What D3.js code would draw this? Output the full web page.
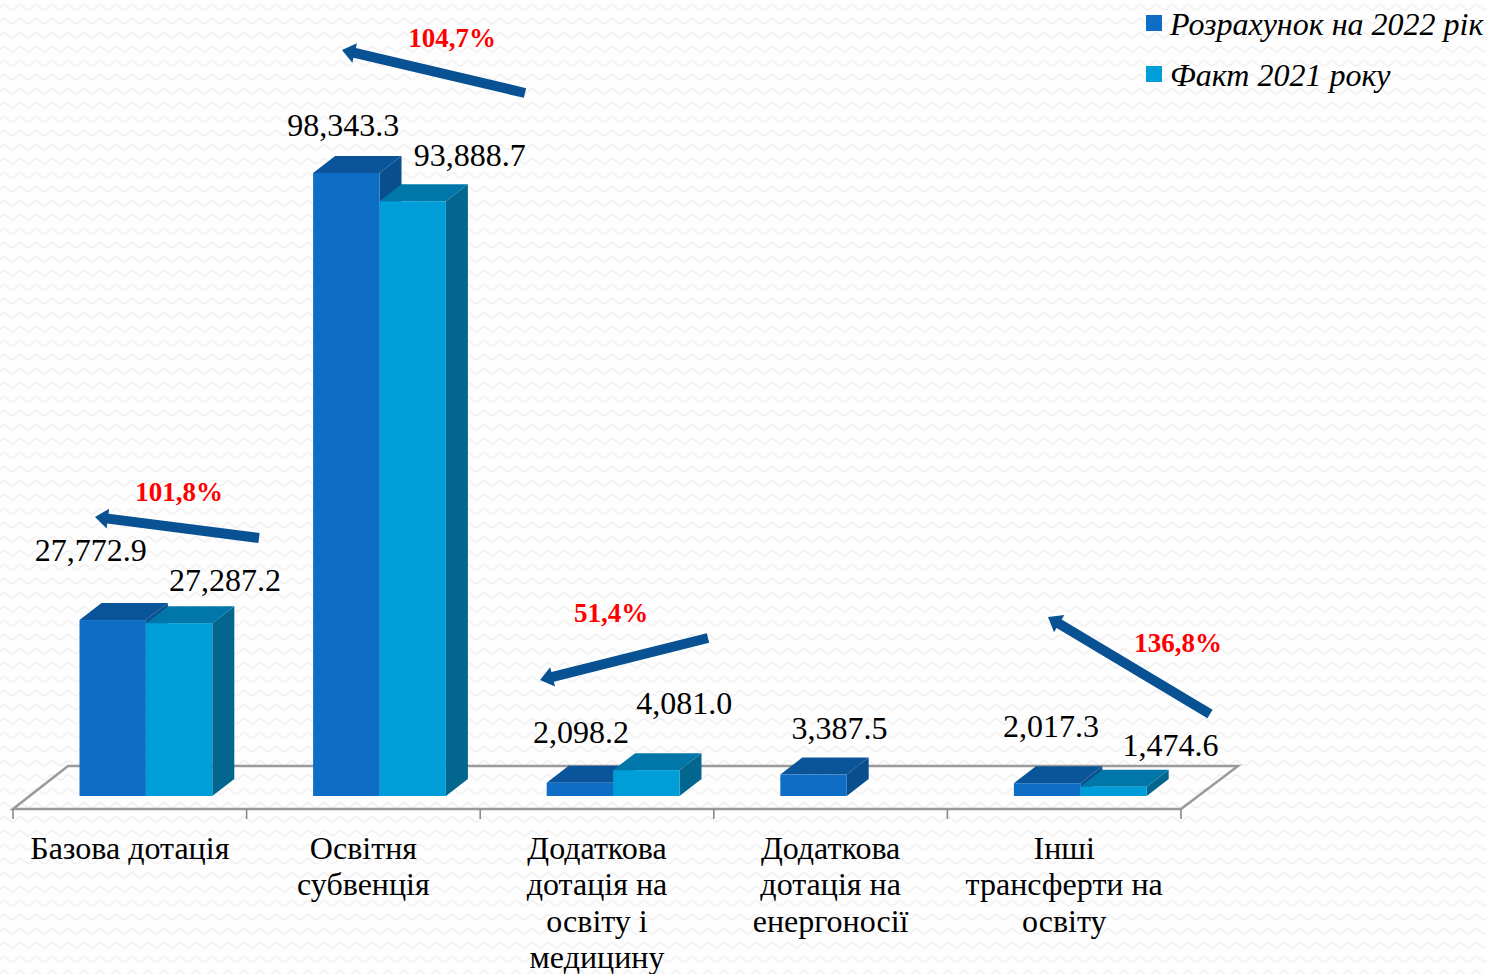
<!DOCTYPE html>
<html>
<head>
<meta charset="utf-8">
<script src="https://cdn.jsdelivr.net/npm/d3@7"></script>
<style>
html, body { margin: 0; padding: 0; background: #fff; overflow: hidden; }
text { font-family: "Liberation Serif", serif; fill: #000; }
</style>
</head>
<body>
<script>
//chart data
var categories = ["Базова дотація", "Освітня субвенція", "Додаткова дотація на освіту і медицину", "Додаткова дотація на енергоносії", "Інші трансферти на освіту"];
var categoryLines = [
    ["Базова дотація"],
    ["Освітня", "субвенція"],
    ["Додаткова", "дотація на", "освіту і", "медицину"],
    ["Додаткова", "дотація на", "енергоносії"],
    ["Інші", "трансферти на", "освіту"]
];
var seriesNames = ["Розрахунок на 2022 рік", "Факт 2021 року"];
var plan2022 = [27772.9, 98343.3, 2098.2, 3387.5, 2017.3];
var fact2021 = [27287.2, 93888.7, 4081.0, null, 1474.6];
var growthLabels = ["101,8%", "104,7%", "51,4%", "136,8%"];

var width = 1487, height = 974;
var depthX = 22, depthY = 17; //fake 3d offset of the bars
var floorY = 809, baseY = 796;

var colors = [
    {front: "#0e6ec6", top: "#0a5599", side: "#094f8e"},
    {front: "#009ed9", top: "#0077a8", side: "#03668f"}
];

var svg = d3.select("body").append("svg")
    .attr("width", width)
    .attr("height", height)
    .style("display", "block");

//wavy paper background
var pattern = svg.append("defs").append("pattern")
    .attr("id", "paper")
    .attr("patternUnits", "userSpaceOnUse")
    .attr("width", 16)
    .attr("height", 14);
pattern.append("path")
    .attr("d", "M0,8 Q4,2 8,7 T16,8")
    .attr("fill", "none")
    .attr("stroke", "#f2f2f2")
    .attr("stroke-width", 2);
svg.append("rect").attr("width", width).attr("height", height).attr("fill", "#fefefe");
svg.append("rect").attr("width", width).attr("height", height).attr("fill", "url(#paper)");

//scales
var x = d3.scaleBand().domain(categories).range([13, 1181]);
var y = d3.scaleLinear().domain([0, 98343.3]).range([baseY, 173]);
var barWidth = 66.4;
var barOffset = 66.5; //gap from tick to first bar

//floor of the 3d chart
var floorX = x.range();
svg.append("path")
    .attr("d", "M" + floorX[0] + "," + floorY + "L" + (floorX[0] + 55) + "," + (floorY - 43) +
        "L" + (floorX[1] + 57) + "," + (floorY - 43) + "L" + floorX[1] + "," + floorY + "Z")
    .attr("fill", "none")
    .attr("stroke", "#9a9a9a")
    .attr("stroke-width", 2.5);

//axis with ticks between the categories
var axis = d3.axisBottom(x).tickSize(0).tickFormat("");
var axisG = svg.append("g")
    .attr("transform", "translate(0," + floorY + ")")
    .call(axis);
axisG.select(".domain").remove();
axisG.selectAll(".tickEdge")
    .data(categories.map(function(c){ return x(c); }).concat([floorX[1]]))
    .enter()
    .append("line")
    .attr("x1", function(d){ return d; })
    .attr("x2", function(d){ return d; })
    .attr("y1", 0)
    .attr("y2", 10)
    .attr("stroke", "#8a8a8a")
    .attr("stroke-width", 1.6);

//one 3d bar: side, top, front
function drawBar(g, left, value, color){
    var right = left + barWidth, top = y(value);
    g.append("path")
        .attr("d", "M" + right + "," + top + "l" + depthX + "," + (-depthY) +
            "V" + (baseY - depthY) + "l" + (-depthX) + "," + depthY + "Z")
        .attr("fill", color.side);
    g.append("path")
        .attr("d", "M" + left + "," + top + "l" + depthX + "," + (-depthY) +
            "H" + (right + depthX) + "l" + (-depthX) + "," + depthY + "Z")
        .attr("fill", color.top);
    g.append("rect")
        .attr("x", left)
        .attr("y", top)
        .attr("width", barWidth)
        .attr("height", baseY - top)
        .attr("fill", color.front);
}

var barsG = svg.append("g");
categories.forEach(function(c, i){
    var left = x(c) + barOffset;
    drawBar(barsG, left, plan2022[i], colors[0]);
    if (fact2021[i] !== null) drawBar(barsG, left + barWidth, fact2021[i], colors[1]);
});

//value labels were placed by hand in the original, so nudge them
var nudgePlan = [[-22, -59], [-3, -37], [1, -40], [26, -36], [4, -46]];
var nudgeFact = [[46, -32], [57, -35], [38, -56], [0, 0], [57, -31]];
var valueFormat = d3.format(",.1f");
var labelSize = 32;

categories.forEach(function(c, i){
    var left = x(c) + barOffset;
    svg.append("text")
        .attr("x", left + barWidth / 2 + nudgePlan[i][0])
        .attr("y", y(plan2022[i]) + nudgePlan[i][1])
        .attr("text-anchor", "middle")
        .attr("font-size", labelSize)
        .text(valueFormat(plan2022[i]));
    if (fact2021[i] !== null) {
        svg.append("text")
            .attr("x", left + barWidth * 1.5 + nudgeFact[i][0])
            .attr("y", y(fact2021[i]) + nudgeFact[i][1])
            .attr("text-anchor", "middle")
            .attr("font-size", labelSize)
            .text(valueFormat(fact2021[i]));
    }
});

//category labels
categories.forEach(function(c, i){
    var cx = x(c) + x.bandwidth() / 2;
    categoryLines[i].forEach(function(line, j){
        svg.append("text")
            .attr("x", cx)
            .attr("y", 859 + j * 36.3)
            .attr("text-anchor", "middle")
            .attr("font-size", 32)
            .text(line);
    });
});

//growth arrows, tail -> tip
var arrows = [
    {from: [259, 538], to: [95, 517], text: [179, 501]},
    {from: [525, 93], to: [342, 50], text: [452, 47]},
    {from: [708, 638], to: [540, 680], text: [611, 622]},
    {from: [1210, 714], to: [1048, 617], text: [1178, 652]}
];
arrows.forEach(function(a, i){
    var dx = a.to[0] - a.from[0], dy = a.to[1] - a.from[1];
    var len = Math.sqrt(dx * dx + dy * dy);
    var ux = dx / len, uy = dy / len, px = -uy, py = ux;
    var shaft = 5, head = 10, headLen = 13;
    var neck = [a.to[0] - ux * headLen, a.to[1] - uy * headLen];
    var pts = [
        [a.from[0] + px * shaft, a.from[1] + py * shaft],
        [neck[0] + px * shaft, neck[1] + py * shaft],
        [neck[0] + px * head, neck[1] + py * head],
        a.to,
        [neck[0] - px * head, neck[1] - py * head],
        [neck[0] - px * shaft, neck[1] - py * shaft],
        [a.from[0] - px * shaft, a.from[1] - py * shaft]
    ];
    svg.append("polygon")
        .attr("points", pts.map(function(p){ return p.join(","); }).join(" "))
        .attr("fill", "#085294");
    svg.append("text")
        .attr("x", a.text[0])
        .attr("y", a.text[1])
        .attr("text-anchor", "middle")
        .attr("font-size", 27)
        .attr("font-weight", "bold")
        .style("fill", "#ff0000")
        .text(growthLabels[i]);
});

//legend
seriesNames.forEach(function(name, i){
    var ly = 15 + i * 51;
    svg.append("rect")
        .attr("x", 1146)
        .attr("y", ly)
        .attr("width", 16)
        .attr("height", 16)
        .attr("fill", colors[i].front);
    svg.append("text")
        .attr("x", 1170)
        .attr("y", ly + 20)
        .attr("font-size", 32)
        .attr("font-style", "italic")
        .text(name);
});
</script>
</body>
</html>
